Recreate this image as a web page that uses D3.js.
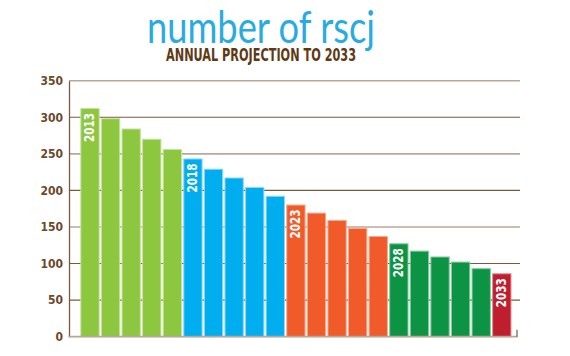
<!DOCTYPE html>
<html><head><meta charset="utf-8">
<script src="https://cdn.jsdelivr.net/npm/d3@7"></script>
<style>
html,body{margin:0;padding:0;background:#fff;}
svg{display:block;}
</style></head>
<body>
<script>
const years = [2013,2014,2015,2016,2017,2018,2019,2020,2021,2022,2023,2024,2025,2026,2027,2028,2029,2030,2031,2032,2033];
const values = [312,298,284,270,256,243,229,217,204,192,180,169,159,148,137,127,117,109,102,93,86];
const groups = ["g1","g1","g1","g1","g1","g2","g2","g2","g2","g2","g3","g3","g3","g3","g3","g4","g4","g4","g4","g4","g5"];
const labeledYears = [2013,2018,2023,2028,2033];
const yTicks = [0,50,100,150,200,250,300,350];
const titleText = "number of rscj";
const subtitleText = "ANNUAL PROJECTION TO 2033";

const W = 570, H = 356;
const svg = d3.select("body").append("svg").attr("width", W).attr("height", H);

const color = d3.scaleOrdinal().domain(["g1","g2","g3","g4","g5"])
  .range(["#8dc63f","#00aeef","#f15a29","#0c9444","#be1e2d"]);
const stroke = d3.scaleOrdinal().domain(["g1","g2","g3","g4","g5"])
  .range(["#c6e29e","#8fd6f5","#f8aa90","#86caa0","#e08a92"]);

const y = d3.scaleLinear().domain([0,350]).range([336.7, 80.7]);
const x = d3.scaleBand().domain(years).range([79.8, 512]).paddingInner(0.11).paddingOuter(0.05);

const condensed = "'Liberation Sans Narrow','DejaVu Sans Condensed','Roboto Condensed',sans-serif";

// title
svg.append("text").attr("x", 261).attr("y", 43)
  .attr("text-anchor","middle")
  .attr("font-family","Lato, 'Open Sans', sans-serif").attr("font-weight",400)
  .attr("font-size", 44).attr("fill","#29abe2")
  .attr("textLength", 228).attr("lengthAdjust","spacingAndGlyphs")
  .text(titleText);
svg.append("text").attr("x", 261).attr("y", 61)
  .attr("text-anchor","middle")
  .attr("font-family", condensed).attr("font-weight","bold")
  .attr("font-size", 17).attr("fill","#603913")
  .attr("textLength", 190).attr("lengthAdjust","spacingAndGlyphs")
  .text(subtitleText);

// gridlines
const light = v => (v===350||v===250||v===150||v===0);
svg.append("g").selectAll("line").data(yTicks.filter(v=>v>0)).join("line")
  .attr("x1", 69).attr("x2", 520)
  .attr("y1", d=>y(d)).attr("y2", d=>y(d))
  .attr("stroke", d=>light(d)?"#b8a898":"#7a5a3e")
  .attr("stroke-width", d=>light(d)?1.6:1.1);

// bars
svg.append("g").selectAll("rect").data(values).join("rect")
  .attr("x", (d,i)=>x(years[i])).attr("width", x.bandwidth())
  .attr("y", d=>y(d)).attr("height", d=>y(0)-y(d))
  .attr("fill", (d,i)=>color(groups[i]))
  .attr("stroke", (d,i)=>stroke(groups[i])).attr("stroke-width", 1);

// year labels
svg.append("g").selectAll("text").data(years.filter(v=>labeledYears.includes(v))).join("text")
  .attr("transform", d=>{
    const i = years.indexOf(d);
    return `translate(${x(d)+x.bandwidth()/2-1.2},${y(values[i])+4.5}) rotate(-90)`;
  })
  .attr("text-anchor","end").attr("dy","0.36em")
  .attr("font-family", condensed).attr("font-weight","bold")
  .attr("font-size", 14).attr("fill","#fff")
  .attr("textLength", 29).attr("lengthAdjust","spacingAndGlyphs")
  .text(d=>d);

// y axis
const yAxis = d3.axisLeft(y).tickValues(yTicks).tickSize(0).tickPadding(6);
const ga = svg.append("g").attr("transform","translate(69,0)").call(yAxis);
ga.select(".domain").attr("stroke","#7a5a3e").attr("stroke-width",1.3);
ga.selectAll("text").attr("font-family", condensed).attr("font-weight","bold")
  .attr("font-size", 12).attr("fill","#6b4a2c");

// bottom axis
svg.append("line").attr("x1",68.5).attr("x2",517.5).attr("y1",y(0)).attr("y2",y(0))
  .attr("stroke","#b8a898").attr("stroke-width",1.8);
svg.append("line").attr("x1",517).attr("x2",517).attr("y1",y(0)).attr("y2",y(0)-7)
  .attr("stroke","#7a5a3e").attr("stroke-width",1.2);
</script>
</body></html>
